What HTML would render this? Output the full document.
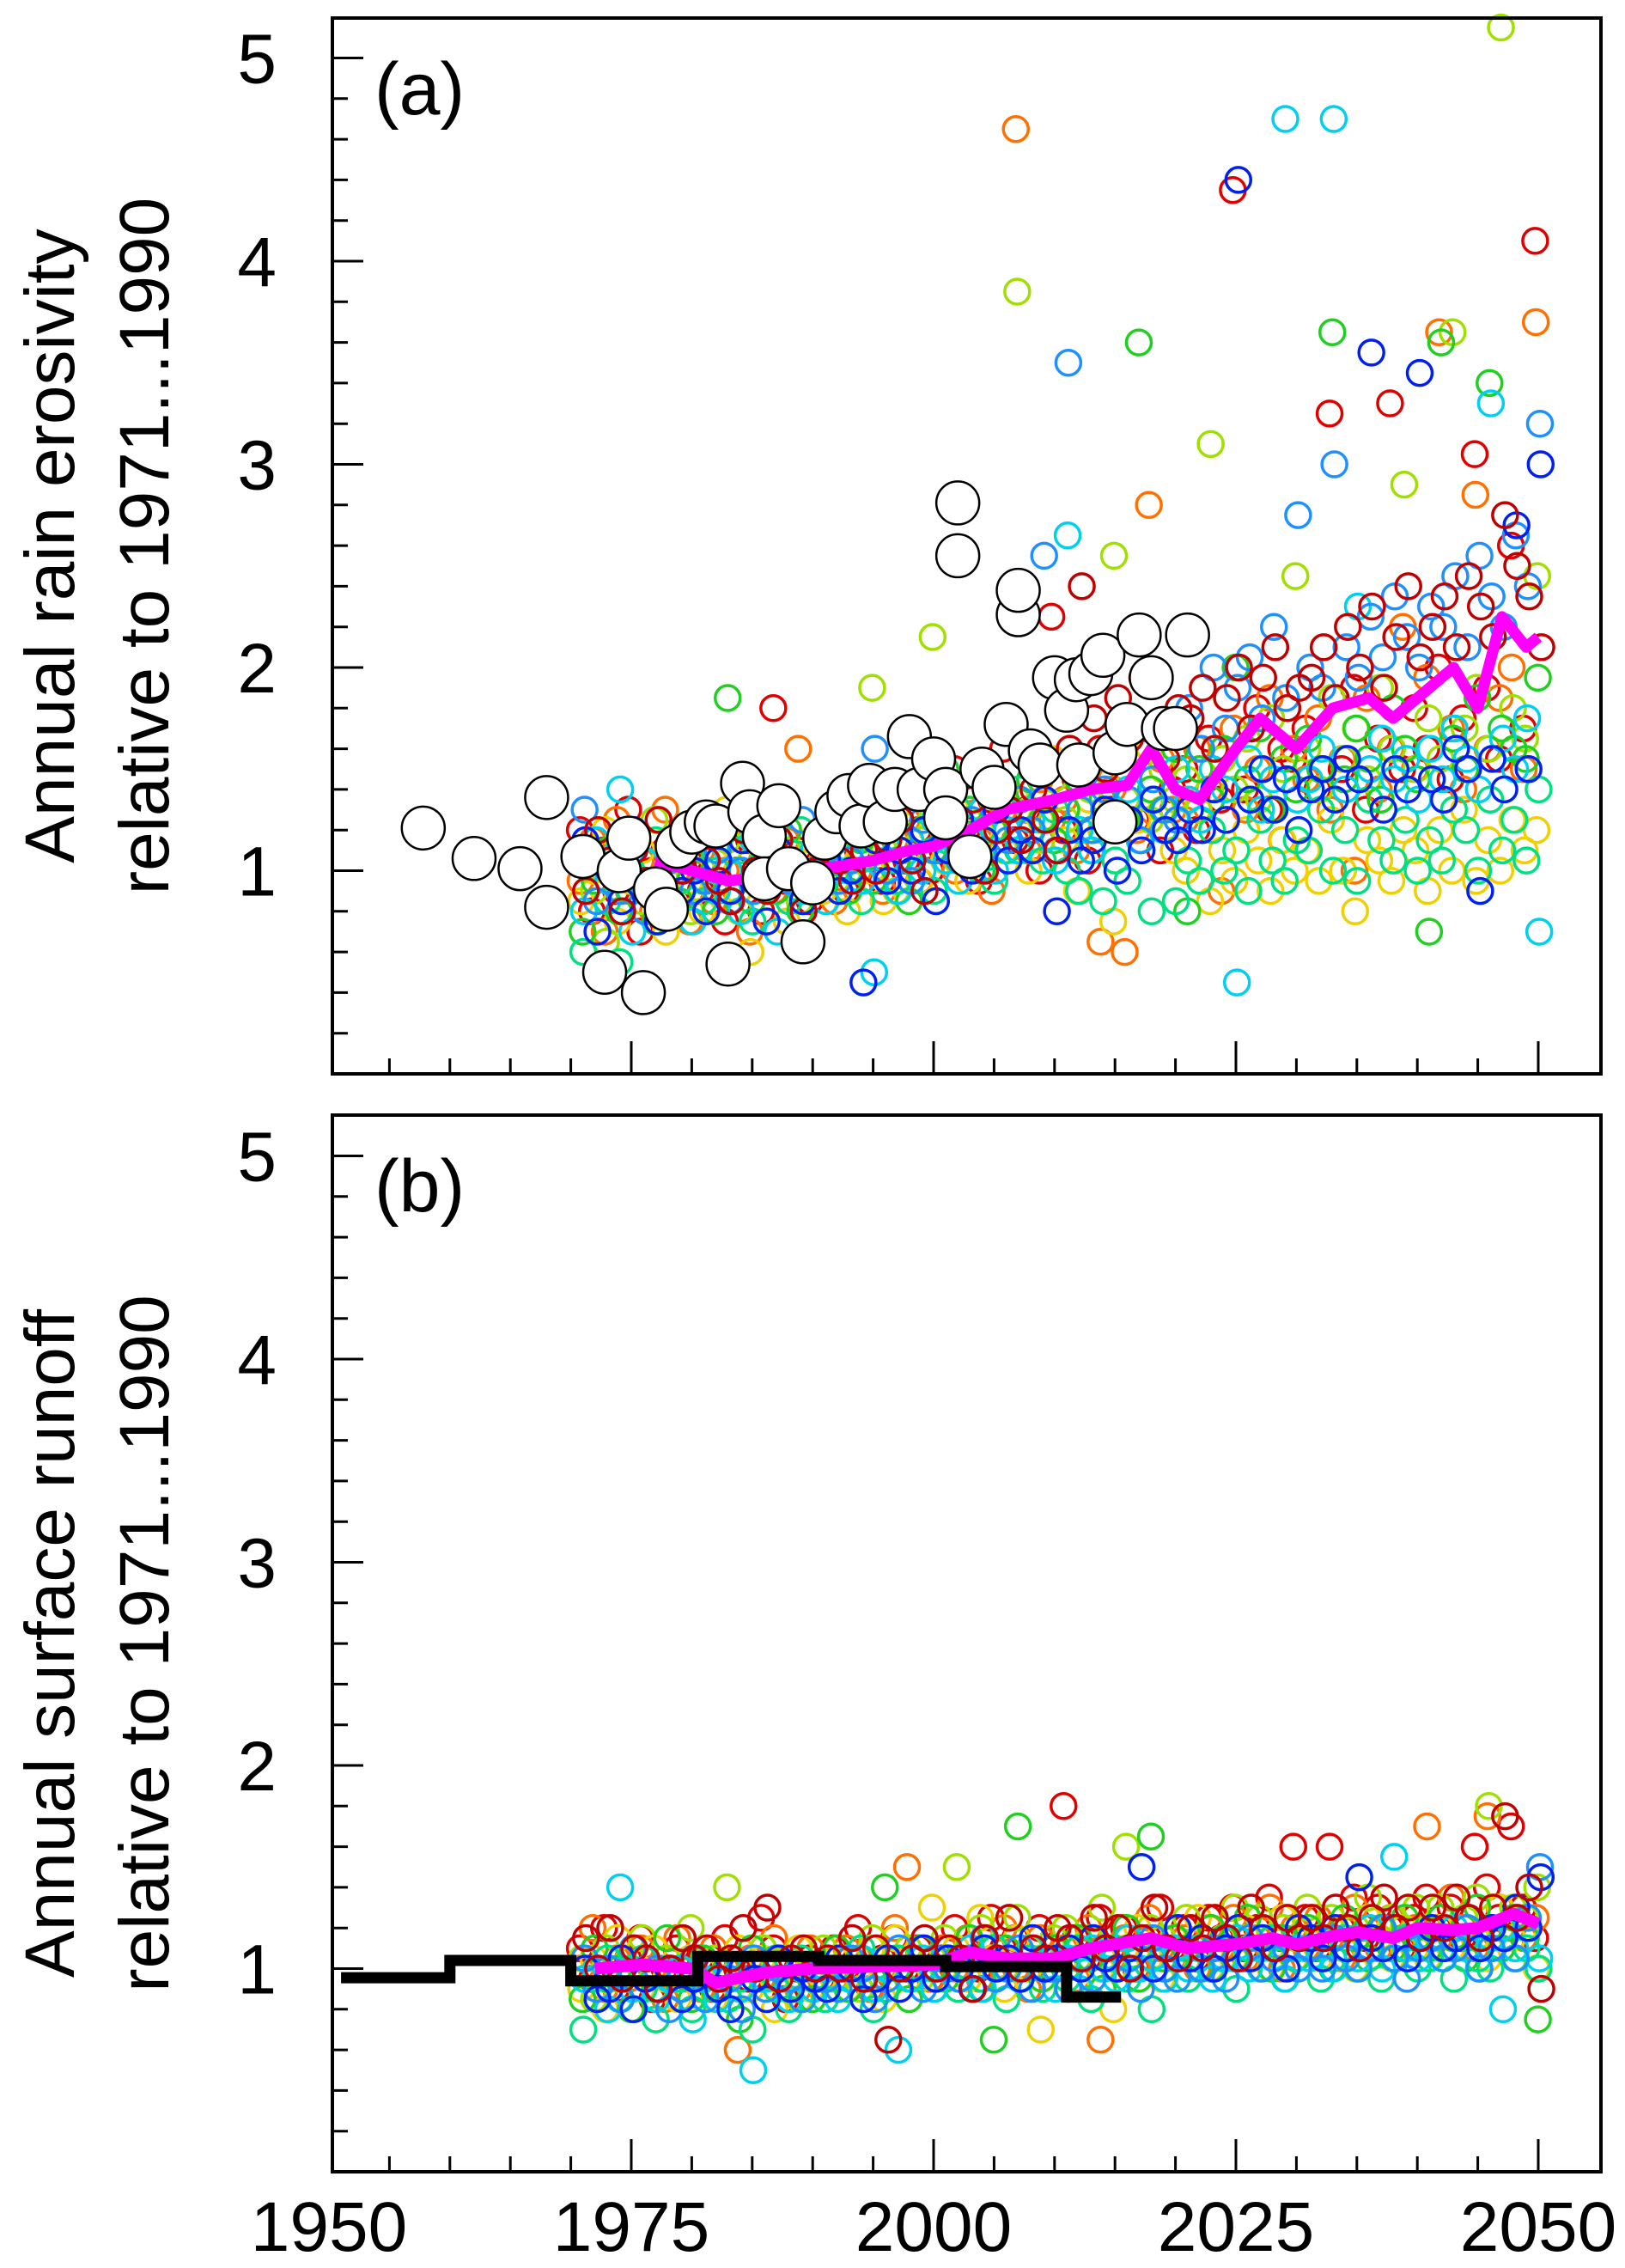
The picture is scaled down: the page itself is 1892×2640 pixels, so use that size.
<!DOCTYPE html>
<html><head><meta charset="utf-8"><style>
html,body{margin:0;padding:0;background:#fff;}
svg{display:block;font-family:"Liberation Sans",Arial,sans-serif;}
</style></head><body>
<svg id="chart" width="1892" height="2640" viewBox="0 0 1892 2640">
<g id="panelA"></g>
<g id="panelB"></g>
</svg>
<script>
const years = [];
for (let y = 1971; y <= 2050; y++) years.push(y);
const seriesColors = ["#e00000","#ff7000","#f0d000","#a0e000","#20d020","#00e080","#00d0f0","#2090ff","#0020f0","#c00000"];
const xTickYears = [1950,1975,2000,2025,2050];
const yTickValues = [1,2,3,4,5];

const erosivity = [
[1.2,.8,1.1,.9,1.3,.7,1.0,1.1,.85,1.05,.9,1.2,.75,1.0,1.15,.8,1.8,.95,1.1,.85,1.0,1.3,.9,1.1,1.25,.95,1.4,1.05,1.2,1.0,1.1,1.5,1.2,.95,1.35,1.6,1.15,1.3,1.0,2.25,1.2,1.45,1.05,1.6,1.3,1.5,1.25,1.7,1.1,1.4,1.5,1.2,1.65,1.35,4.35,1.4,1.8,1.3,1.6,1.55,1.7,1.4,3.25,1.5,1.9,1.3,1.65,3.3,1.5,1.8,1.6,2.0,1.45,1.75,3.05,1.9,1.55,2.6,1.7,4.1],
[.95,1.15,.7,1.25,.9,1.05,.8,1.3,1.0,.75,1.1,.85,1.0,1.25,.7,1.05,.9,1.15,1.6,.95,1.05,.85,1.2,1.0,1.3,.9,1.15,1.25,.95,1.35,1.2,1.0,1.4,1.15,.9,1.3,4.65,1.1,1.45,1.25,1.35,1.1,1.5,.65,1.4,.6,1.2,2.8,1.55,1.3,1.25,1.6,1.4,.9,1.7,1.3,1.5,1.85,1.15,1.6,1.45,1.75,1.3,1.55,1.0,1.85,1.4,1.6,2.2,1.5,1.95,3.65,1.7,1.4,2.85,1.6,1.85,2.0,1.5,3.7],
[.85,1.0,1.2,.75,.95,1.1,.9,.7,1.05,.95,.8,1.05,1.3,.9,.6,1.1,.95,.75,1.0,1.15,.9,1.1,.8,1.2,1.0,.85,1.3,1.1,.95,1.2,1.05,1.3,.95,1.2,1.45,1.1,1.35,1.0,1.25,1.55,1.15,.9,1.35,1.2,.75,1.5,1.25,1.6,1.3,1.1,1.0,1.3,.85,1.1,.95,1.2,1.05,.9,1.15,1.0,1.1,.95,1.25,1.0,.8,1.15,1.05,.95,1.2,1.1,.9,1.2,1.0,1.3,.95,1.15,1.0,1.25,1.1,1.2],
[1.05,.9,.65,1.15,1.0,.85,1.25,.95,1.1,.8,1.0,.9,1.15,.8,1.05,1.25,.95,1.1,.85,1.0,1.15,.95,1.25,1.05,1.9,1.1,.9,1.3,1.15,2.15,1.3,1.05,1.25,1.5,1.2,1.4,3.85,1.3,1.15,1.45,1.25,1.55,1.4,1.2,2.55,1.35,1.6,1.25,1.5,1.35,1.45,1.3,3.1,1.55,1.4,1.65,1.35,1.75,1.5,2.45,1.6,1.4,1.85,1.55,1.7,1.45,1.9,1.6,2.9,1.5,1.75,1.55,3.65,1.7,1.9,1.6,5.15,1.8,1.65,2.45],
[.7,.95,1.1,.8,1.2,.9,.75,1.0,.85,1.05,.95,.8,1.85,1.0,.85,1.1,.9,1.2,.8,.95,1.1,1.0,.9,1.15,.95,1.25,1.05,.85,1.2,1.1,1.5,1.15,1.3,1.0,1.2,1.35,1.1,1.45,1.25,1.15,1.3,1.45,1.2,1.35,1.55,1.25,3.6,1.4,1.3,1.6,.8,1.5,1.35,1.6,2.0,1.45,1.7,1.3,1.55,1.4,1.65,1.5,3.65,1.45,1.7,1.55,1.35,1.8,1.6,1.45,.7,3.6,1.65,1.5,1.85,3.4,1.7,1.6,1.55,1.95],
[.6,1.05,.85,.55,1.0,.9,1.15,.8,.95,1.1,.85,1.0,.9,1.1,.75,.95,1.05,.85,1.2,.9,.95,1.15,1.0,.85,1.1,1.2,.95,1.05,1.3,.9,1.15,1.3,1.05,1.2,.95,1.1,1.4,1.2,1.05,1.3,1.0,.9,1.1,.85,1.05,.95,1.15,.8,1.2,.85,1.05,.95,1.2,1.0,1.1,.9,1.25,1.05,.95,1.15,1.1,1.3,1.0,1.2,.95,1.35,1.15,1.05,1.25,1.0,1.15,1.05,1.3,1.2,1.0,1.35,1.1,1.25,1.05,1.4],
[.8,1.15,.95,1.4,.7,1.05,.9,.85,1.0,.75,1.05,.9,1.0,.8,1.15,.95,.7,1.05,.9,1.1,.85,1.0,1.1,.95,.5,1.05,.9,1.15,1.0,1.25,1.05,.95,1.15,1.3,1.0,1.2,1.1,1.25,1.35,1.05,2.65,1.2,1.1,1.3,1.25,1.4,1.15,1.35,1.2,1.5,1.35,1.25,1.5,1.4,.45,1.55,1.3,1.45,4.7,1.35,1.45,1.6,4.7,1.4,2.3,1.5,1.65,1.45,1.55,1.35,1.6,1.45,1.7,1.55,1.4,3.3,1.65,1.5,1.75,.7],
[1.3,.85,1.0,.9,1.1,.8,.95,1.05,1.2,.9,.95,1.1,.85,1.0,.9,1.15,1.05,.95,1.25,1.0,1.1,.95,1.05,1.2,1.6,1.0,1.15,.95,1.25,1.1,1.2,1.05,1.25,1.1,1.3,1.15,1.35,1.2,2.55,1.1,3.5,1.3,1.2,1.4,1.25,1.35,1.15,1.45,1.3,1.25,1.8,1.6,2.0,1.7,1.9,2.05,1.75,2.2,1.85,2.75,2.0,1.9,3.0,2.1,1.95,2.25,2.05,2.35,2.15,2.0,2.3,2.2,2.45,2.1,2.55,2.35,2.2,2.65,2.4,3.2],
[1.15,.7,1.0,.85,1.2,.95,.75,1.1,.9,1.0,.8,1.05,.9,1.15,.95,.75,1.1,1.0,.85,.95,1.05,.9,1.0,.45,1.15,.95,1.1,1.0,1.2,.85,1.1,1.25,1.0,1.15,1.3,1.05,1.2,1.1,1.35,.8,1.2,1.05,1.15,1.3,1.0,1.25,1.1,1.35,1.2,1.15,1.3,1.2,1.4,1.25,4.4,1.35,1.5,1.3,1.45,1.2,1.4,1.5,1.35,1.55,1.45,3.55,1.3,1.5,1.4,3.45,1.45,1.35,1.6,1.5,.9,1.55,1.4,2.7,1.5,3.0],
[.9,1.2,1.05,.8,1.1,.95,1.25,.85,1.0,1.15,1.05,.95,.85,1.2,1.0,.9,1.15,1.05,.8,1.0,1.2,1.05,.95,1.1,1.0,1.15,1.25,1.05,.9,1.3,1.25,1.1,1.35,1.0,1.2,1.3,1.15,1.4,1.25,1.1,1.6,2.4,1.75,1.5,1.85,1.65,1.95,1.7,1.55,1.8,1.75,1.9,1.6,1.85,2.0,1.7,1.95,2.1,1.8,1.9,1.95,2.1,1.85,2.2,2.0,2.3,1.9,2.15,2.4,2.05,2.2,2.35,2.1,2.45,2.3,2.15,2.75,2.5,2.35,2.1]
];
const runoff = [
[1.1,.95,1.2,.9,1.05,1.15,.85,1.0,1.1,.95,1.05,.9,1.15,1.0,.95,1.25,1.1,.85,1.0,1.05,.95,1.1,1.0,1.2,.9,1.05,1.15,1.0,1.1,.95,1.05,1.2,1.1,1.0,1.25,1.1,1.15,1.05,1.2,1.0,1.8,1.15,1.05,1.25,1.1,1.2,1.0,1.15,1.3,1.1,1.2,1.05,1.25,1.15,1.3,1.1,1.2,1.35,1.15,1.6,1.25,1.1,1.6,1.2,1.35,1.15,1.3,1.2,1.1,1.25,1.35,1.2,1.3,1.15,1.6,1.4,1.25,1.7,1.3,1.15],
[1.0,1.2,.9,1.05,.95,1.1,1.0,.85,1.15,.95,.9,1.1,1.0,.6,1.05,.95,1.15,1.0,.9,1.1,1.0,.95,1.1,1.05,.9,1.0,1.2,1.5,1.05,.95,1.1,1.0,1.15,.95,1.05,1.2,1.0,.9,1.15,1.05,1.1,.95,1.2,.65,1.05,1.15,1.0,1.25,1.1,1.05,1.15,1.0,1.2,1.1,1.25,1.05,1.15,1.3,1.0,1.2,1.1,1.25,1.15,1.05,1.3,1.2,1.1,1.25,1.15,1.2,1.7,1.15,1.35,1.2,1.1,1.75,1.3,1.2,1.15,1.25],
[.9,1.05,.8,1.15,1.0,.9,1.1,.95,.85,1.05,1.0,.85,.95,1.1,.9,1.05,.8,1.0,1.1,.9,.95,1.05,.9,1.0,1.1,.85,1.15,.95,1.05,1.3,1.0,1.1,.95,1.25,1.05,.9,1.15,1.0,.7,1.1,1.05,.9,1.15,1.0,.8,1.1,1.2,1.05,.95,1.15,1.1,1.25,1.0,1.15,1.05,1.2,1.1,1.0,1.25,1.05,1.15,1.05,1.2,1.1,1.0,1.25,1.15,1.05,1.2,1.1,1.05,1.2,1.1,1.25,1.15,1.05,1.3,1.15,1.2,1.0],
[1.05,.85,1.1,.95,1.0,1.15,.9,1.05,.95,1.2,.95,1.05,1.4,.9,1.0,1.1,.95,1.05,.85,1.0,1.1,.95,1.05,.9,1.15,1.0,1.05,1.1,.95,1.05,1.15,1.5,1.05,1.2,1.1,1.0,1.25,1.1,1.05,1.15,1.2,1.05,1.15,1.3,1.0,1.6,1.1,1.2,1.15,1.05,1.25,1.1,1.2,1.05,1.3,1.15,1.25,1.1,1.2,1.15,1.3,1.15,1.25,1.1,1.2,1.35,1.15,1.25,1.1,1.3,1.2,1.3,1.15,1.25,1.35,1.8,1.2,1.3,1.25,1.4],
[.85,1.1,.95,1.0,.8,1.05,.9,1.15,1.0,.85,1.05,.9,1.0,.75,1.1,.95,1.05,.9,1.0,.85,1.0,1.1,.9,1.05,.95,1.4,1.0,.85,1.1,1.0,.95,1.05,1.15,.9,.65,1.1,1.7,1.05,.95,1.1,1.0,1.15,1.05,.9,1.1,1.2,.95,1.65,1.05,1.15,1.1,1.0,1.2,1.15,1.05,1.25,1.1,1.0,1.15,1.05,1.2,1.1,1.0,1.25,1.15,1.05,1.2,1.1,1.25,1.15,1.1,1.25,1.15,1.05,1.3,1.2,1.1,1.25,1.15,.75],
[.7,.95,1.05,.85,1.0,.9,.75,1.0,.95,.8,.9,1.0,.85,.95,.7,1.0,.9,.8,1.05,.95,.85,1.0,.95,1.1,.8,.9,1.05,.95,1.0,.9,1.0,.9,1.05,.95,1.1,.85,1.0,1.05,.9,1.0,.95,1.1,.85,1.0,1.05,.95,1.1,.8,1.0,1.05,.95,1.1,1.0,1.05,.9,1.1,1.0,1.15,.95,1.05,1.1,.95,1.05,1.15,1.0,1.1,.95,1.05,1.15,1.0,1.05,1.1,.95,1.15,1.05,1.0,1.2,1.05,1.1,1.0],
[.95,1.0,.8,1.4,.9,1.05,.85,.95,1.0,.75,.95,.85,1.0,.9,.5,.95,1.05,.85,1.0,.9,1.0,.85,.95,1.05,.9,1.0,.6,.95,1.05,.9,1.05,.95,1.1,.9,1.0,1.05,.95,1.1,1.0,.9,1.05,.9,1.1,1.0,.95,1.15,1.0,1.05,.95,1.1,1.0,1.1,.95,1.05,1.15,1.0,1.1,1.05,.95,1.1,1.05,1.15,1.0,1.1,1.05,1.2,1.0,1.55,1.1,1.05,1.15,1.05,1.2,1.1,1.0,1.15,.8,1.1,1.2,1.05],
[1.05,.9,1.0,.85,1.1,.95,1.0,.8,.9,1.05,.85,1.0,.95,.8,1.05,.9,1.0,.95,.85,1.0,.95,.9,1.05,1.0,.85,.95,1.1,1.0,.9,1.05,1.0,.95,1.05,1.15,.95,1.0,1.1,.9,1.05,1.0,.9,1.05,.95,1.1,1.0,1.05,.9,1.15,1.0,.95,1.05,1.0,1.1,.95,1.05,1.15,1.0,1.05,1.1,1.0,1.1,1.0,1.15,1.05,1.0,1.1,1.2,1.05,.95,1.1,1.15,1.05,1.1,1.2,1.0,1.1,1.15,1.05,1.25,1.5],
[1.0,.85,.9,1.05,.8,.95,.9,1.0,.85,.95,1.0,.9,.8,1.0,.95,.85,1.05,.9,1.0,.95,.9,1.05,1.0,.85,.95,1.05,.9,1.0,1.1,.95,1.05,1.0,.9,1.1,1.0,1.05,.95,1.15,1.0,1.05,1.1,1.0,1.15,1.05,1.0,1.1,1.5,1.0,1.1,1.2,1.05,1.15,1.0,1.1,1.2,1.05,1.15,1.1,1.0,1.2,1.15,1.05,1.2,1.1,1.45,1.15,1.1,1.2,1.05,1.15,1.2,1.1,1.15,1.25,1.1,1.2,1.15,1.3,1.2,1.45],
[1.15,1.0,1.2,.95,1.1,1.05,.9,1.0,1.15,1.05,1.1,.95,1.05,1.2,1.0,1.3,.95,1.05,1.1,1.0,1.05,1.0,1.15,.95,1.1,.65,1.0,1.05,1.15,1.0,1.1,1.05,.9,1.15,1.05,1.25,1.0,1.1,1.05,1.2,1.15,1.05,1.25,1.1,1.2,1.0,1.15,1.3,1.1,1.05,1.2,1.1,1.25,1.15,1.05,1.3,1.2,1.1,1.25,1.15,1.25,1.15,1.3,1.2,1.1,1.25,1.35,1.2,1.3,1.15,1.3,1.2,1.35,1.25,1.15,1.3,1.75,1.25,1.4,.9]
];
const meanAYears = [1977,1980,1983,1986,1990,1995,1998,2000,2003,2006,2010,2013,2016,2018,2020,2022,2025,2027,2030,2033,2036,2038,2040,2043,2045,2047,2049,2050];
const meanAValues = [1.05,1.0,.95,.97,1.0,1.05,1.1,1.12,1.2,1.3,1.35,1.4,1.42,1.6,1.4,1.35,1.6,1.75,1.6,1.8,1.85,1.75,1.85,2.0,1.8,2.25,2.1,2.15];
const obsAYears = [1957.8,1962,1965.8,1968,1968,1971,1972.8,1974,1974.8,1976,1977,1977.9,1978.8,1980,1981.2,1982,1983,1984.2,1984.8,1986,1986,1987.2,1988,1989.2,1990,1991,1992,1993,1994,1994.7,1996,1996.8,1998,1998.8,2000,2001,2001,2002,2002,2003,2004,2005,2006,2007,2007,2008,2008.8,2010,2011,2011.8,2012,2013,2014,2015,2015,2016,2017,2018,2019,2020,2021];
const obsAValues = [1.21,1.06,1.01,1.36,.82,1.07,.5,1.0,1.16,.4,.91,.81,1.12,1.19,1.24,1.22,.54,1.43,1.29,1.17,.96,1.32,1.01,.65,.94,1.16,1.29,1.37,1.22,1.42,1.24,1.4,1.66,1.4,1.55,1.4,1.26,2.81,2.55,1.07,1.5,1.41,1.72,2.26,2.38,1.59,1.52,1.95,1.79,1.94,1.52,1.97,2.06,1.58,1.24,1.72,2.16,1.95,1.7,1.7,2.16];
const meanBYears = [1972,1976,1980,1982,1986,1990,1995,2000,2003,2006,2010,2013,2015,2018,2021,2025,2028,2030,2033,2035,2038,2040,2043,2045,2048,2050];
const meanBValues = [1.0,1.02,1.0,.93,.98,1.0,1.01,1.02,1.08,1.05,1.05,1.1,1.12,1.15,1.1,1.12,1.15,1.12,1.16,1.18,1.15,1.2,1.19,1.2,1.27,1.22];
const obsBStart = [1951,1960,1970,1980.5,1990.5,2001,2011];
const obsBEnd = [1960,1970,1980.5,1990.5,2001,2011,2015.5];
const obsBValues = [.955,1.04,.94,1.06,1.04,1.01,.86];

const NS = "http://www.w3.org/2000/svg";
const X0 = 383, PXYR = 14.08, LEFT = 387, RIGHT = 1864, UNIT = 236.5;
function xScale(yr){ return X0 + (yr - 1950) * PXYR; }
function mk(tag, attrs, parent){ const e = document.createElementNS(NS, tag); for (const k in attrs) e.setAttribute(k, attrs[k]); parent.appendChild(e); return e; }

function drawPanel(g, top, bottom, label, title1, title2, scatter, mYears, mVals, mWidth){
  const yScale = v => bottom - v * UNIT;
  const sg = mk('g', {}, g);
  
  
  scatter.forEach((row, si) => {
    row.forEach((v, i) => {
      const c = mk('circle', {cx: xScale(years[i]) + (si - 4.5) * 0.8, cy: yScale(v), r: 14.5, fill: 'none', stroke: seriesColors[si], 'stroke-width': 3.5}, sg);
      
      
    });
  });
  const pts = mYears.map((y, i) => xScale(y) + ',' + yScale(mVals[i])).join(' ');
  const ml = mk('polyline', {points: pts, fill: 'none', stroke: '#ff00ff', 'stroke-width': mWidth, 'stroke-linejoin': 'round'}, g);
  
  
  const fr = mk('rect', {x: LEFT, y: top, width: RIGHT-LEFT, height: bottom-top, fill: 'none', stroke: '#000', 'stroke-width': 4}, g);
  
  
  for (let k = 1; k <= 26; k++){
    const v = k * 0.2, y = yScale(v);
    if (y < top + 2) break;
    const major = k % 5 === 0;
    const t = mk('line', {x1: LEFT, x2: LEFT + (major ? 36 : 18), y1: y, y2: y, stroke: '#000', 'stroke-width': 3}, g);
    
    
  }
  yTickValues.forEach(v => {
    const t = mk('text', {x: 322, y: yScale(v) + 29, 'text-anchor': 'end', 'font-size': 82}, g);
    t.textContent = v;
    
    
  });
  for (let yr = 1955; yr <= 2050; yr += 5){
    const major = yr % 25 === 0;
    const t = mk('line', {x1: xScale(yr), x2: xScale(yr), y1: bottom, y2: bottom - (major ? 38 : 18), stroke: '#000', 'stroke-width': 3}, g);
    
    
  }
  const pl = mk('text', {x: 436, y: top + 112, 'font-size': 86}, g);
  pl.textContent = label;
  
  
  const cy = (top + bottom) / 2;
  const t1 = mk('text', {x: 0, y: 0, 'font-size': 82, 'text-anchor': 'middle', transform: `translate(86,${cy}) rotate(-90)`}, g);
  t1.textContent = title1;
  
  
  const t2 = mk('text', {x: 0, y: 0, 'font-size': 82, 'text-anchor': 'middle', transform: `translate(196,${cy}) rotate(-90)`}, g);
  t2.textContent = title2;
  
  
  return yScale;
}

const gA = document.getElementById('panelA');
const ysA = drawPanel(gA, 21, 1250, '(a)', 'Annual rain erosivity', 'relative to 1971...1990', erosivity, meanAYears, meanAValues, 13);
obsAYears.forEach((yr, i) => {
  const c = mk('circle', {cx: xScale(yr), cy: ysA(obsAValues[i]), r: 25, fill: '#fff', stroke: '#000', 'stroke-width': 2.5}, gA);
  
  
});

const gB = document.getElementById('panelB');
const ysB = drawPanel(gB, 1298, 2528, '(b)', 'Annual surface runoff', 'relative to 1971...1990', runoff, meanBYears, meanBValues, 14);
let d = '';
obsBStart.forEach((s, i) => {
  d += (i === 0 ? 'M' : 'L') + xScale(s) + ',' + ysB(obsBValues[i]) + ' L' + xScale(obsBEnd[i]) + ',' + ysB(obsBValues[i]) + ' ';
});
const ob = mk('path', {d: d, fill: 'none', stroke: '#000', 'stroke-width': 13, 'stroke-linejoin': 'miter'}, gB);



const svg = document.getElementById('chart');
xTickYears.forEach(yr => {
  const t = mk('text', {x: xScale(yr), y: 2620, 'text-anchor': 'middle', 'font-size': 82}, svg);
  t.textContent = yr;
  
  
});
</script>
</body></html>
